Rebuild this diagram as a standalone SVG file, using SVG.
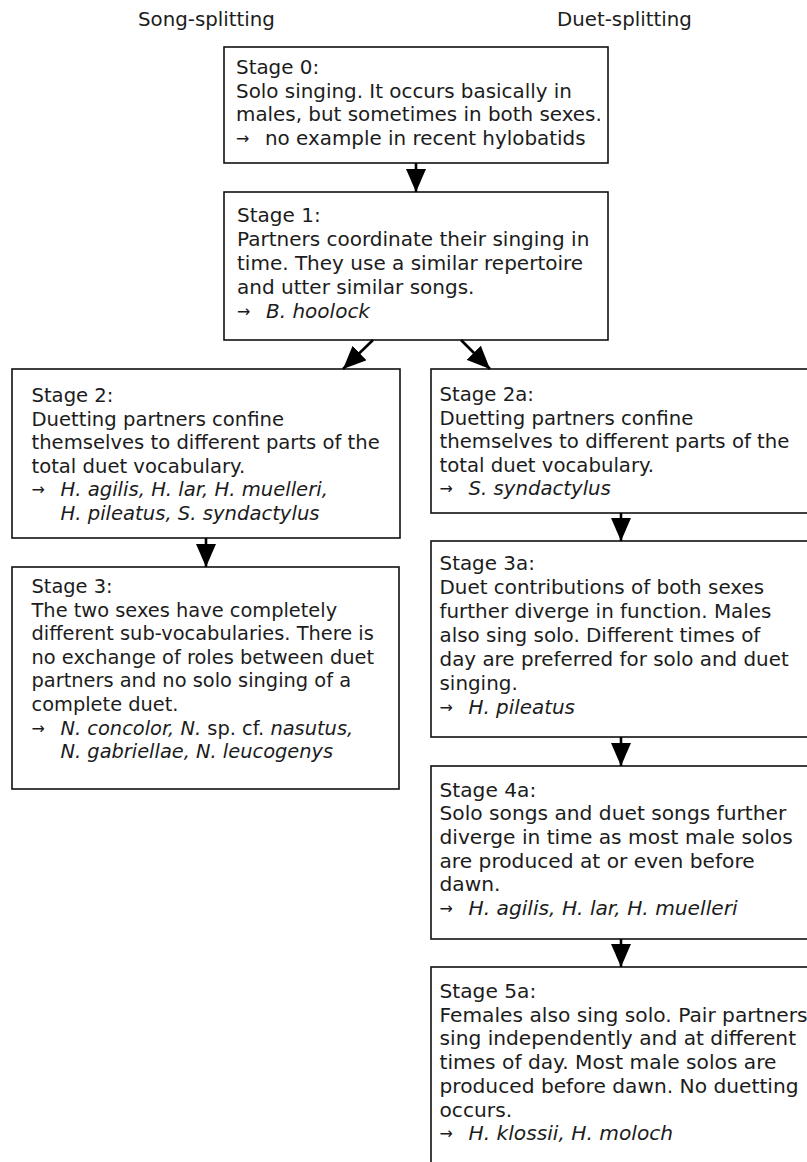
<svg xmlns="http://www.w3.org/2000/svg" width="807" height="1162" viewBox="0 0 807 1162">
<style>
text{font-family:"DejaVu Sans","Liberation Sans",sans-serif;font-size:19.8px;fill:#1c1c1c}
.i{font-style:italic}
.ar{font-size:16px}
.box{fill:#fff;stroke:#111;stroke-width:1.6}
.con{stroke:#000;stroke-width:2.6;fill:none}
</style>
<defs>
<marker id="ah" viewBox="0 0 23 20" refX="23" refY="10" markerWidth="23" markerHeight="20" markerUnits="userSpaceOnUse" orient="auto">
<path d="M0,0 L23,10 L0,20 z" fill="#000"/>
</marker>
</defs>
<rect width="807" height="1162" fill="#fff"/>
<g id="headers">
<text x="138" y="26">Song-splitting</text>
<text x="557" y="26">Duet-splitting</text>
</g>
<g id="stage0">
<rect class="box" x="224" y="47" width="384" height="116"/>
<text style="font-size:19.9px"><tspan x="236" y="74">Stage 0:</tspan><tspan x="236" y="97.7">Solo singing. It occurs basically in</tspan><tspan x="236" y="121.4">males, but sometimes in both sexes.</tspan><tspan class="ar" x="236" y="144">→</tspan><tspan x="265" y="145.1">no example in recent hylobatids</tspan></text>
</g>
<g id="stage1">
<rect class="box" x="224" y="192" width="384" height="148"/>
<text style="font-size:20px"><tspan x="237" y="221.7">Stage 1:</tspan><tspan x="237" y="245.7">Partners coordinate their singing in</tspan><tspan x="237" y="269.7">time. They use a similar repertoire</tspan><tspan x="237" y="293.7">and utter similar songs.</tspan><tspan class="ar" x="237" y="316.6">→</tspan><tspan class="i" x="266" y="317.7">B. hoolock</tspan></text>
</g>
<g id="stage2">
<rect class="box" x="12" y="369" width="388" height="169"/>
<text style="font-size:19.6px"><tspan x="31.5" y="402">Stage 2:</tspan><tspan x="31.5" y="425.5">Duetting partners confine</tspan><tspan x="31.5" y="449">themselves to different parts of the</tspan><tspan x="31.5" y="472.5">total duet vocabulary.</tspan><tspan class="ar" x="31.5" y="495">→</tspan><tspan class="i" x="60.5" y="496">H. agilis, H. lar, H. muelleri,</tspan><tspan class="i" x="60.5" y="519.5">H. pileatus, S. syndactylus</tspan></text>
</g>
<g id="stage3">
<rect class="box" x="12" y="567" width="387" height="222"/>
<text style="font-size:19.4px"><tspan x="31.5" y="593">Stage 3:</tspan><tspan x="31.5" y="616.6">The two sexes have completely</tspan><tspan x="31.5" y="640.2">different sub-vocabularies. There is</tspan><tspan x="31.5" y="663.8">no exchange of roles between duet</tspan><tspan x="31.5" y="687.4">partners and no solo singing of a</tspan><tspan x="31.5" y="711">complete duet.</tspan><tspan class="ar" x="31.5" y="733.5">→</tspan><tspan class="i" x="60.5" y="734.6">N. concolor, N.</tspan><tspan> sp. cf. </tspan><tspan class="i">nasutus,</tspan><tspan class="i" x="60.5" y="758.2">N. gabriellae, N. leucogenys</tspan></text>
</g>
<g id="stage2a">
<rect class="box" x="431" y="369" width="390" height="144"/>
<text style="font-size:19.7px"><tspan x="439.5" y="401">Stage 2a:</tspan><tspan x="439.5" y="424.6">Duetting partners confine</tspan><tspan x="439.5" y="448.2">themselves to different parts of the</tspan><tspan x="439.5" y="471.8">total duet vocabulary.</tspan><tspan class="ar" x="439.5" y="494.3">→</tspan><tspan class="i" x="468.5" y="495.4">S. syndactylus</tspan></text>
</g>
<g id="stage3a">
<rect class="box" x="431" y="541" width="390" height="196"/>
<text style="font-size:19.9px"><tspan x="439.5" y="570">Stage 3a:</tspan><tspan x="439.5" y="594">Duet contributions of both sexes</tspan><tspan x="439.5" y="618">further diverge in function. Males</tspan><tspan x="439.5" y="642">also sing solo. Different times of</tspan><tspan x="439.5" y="666">day are preferred for solo and duet</tspan><tspan x="439.5" y="690">singing.</tspan><tspan class="ar" x="439.5" y="712.9">→</tspan><tspan class="i" x="468.5" y="714">H. pileatus</tspan></text>
</g>
<g id="stage4a">
<rect class="box" x="431" y="766" width="390" height="173"/>
<text style="font-size:20.2px"><tspan x="439.5" y="796.5">Stage 4a:</tspan><tspan x="439.5" y="820.2">Solo songs and duet songs further</tspan><tspan x="439.5" y="843.9">diverge in time as most male solos</tspan><tspan x="439.5" y="867.6">are produced at or even before</tspan><tspan x="439.5" y="891.3">dawn.</tspan><tspan class="ar" x="439.5" y="913.9">→</tspan><tspan class="i" x="468.5" y="915">H. agilis, H. lar, H. muelleri</tspan></text>
</g>
<g id="stage5a">
<rect class="box" x="431" y="967" width="390" height="250"/>
<text style="font-size:20.2px"><tspan x="439.5" y="998">Stage 5a:</tspan><tspan x="439.5" y="1021.7">Females also sing solo. Pair partners</tspan><tspan x="439.5" y="1045.4">sing independently and at different</tspan><tspan x="439.5" y="1069.1">times of day. Most male solos are</tspan><tspan x="439.5" y="1092.8">produced before dawn. No duetting</tspan><tspan x="439.5" y="1116.5">occurs.</tspan><tspan class="ar" x="439.5" y="1139.1">→</tspan><tspan class="i" x="468.5" y="1140.2">H. klossii, H. moloch</tspan></text>
</g>
<g id="connectors">
<line class="con" x1="416" y1="163" x2="416" y2="192" marker-end="url(#ah)"/>
<line class="con" x1="373" y1="340" x2="343" y2="369" marker-end="url(#ah)"/>
<line class="con" x1="461" y1="340" x2="490" y2="369" marker-end="url(#ah)"/>
<line class="con" x1="206" y1="538" x2="206" y2="567" marker-end="url(#ah)"/>
<line class="con" x1="621" y1="513" x2="621" y2="541" marker-end="url(#ah)"/>
<line class="con" x1="621" y1="737" x2="621" y2="766" marker-end="url(#ah)"/>
<line class="con" x1="621" y1="939" x2="621" y2="967" marker-end="url(#ah)"/>
</g>
</svg>
